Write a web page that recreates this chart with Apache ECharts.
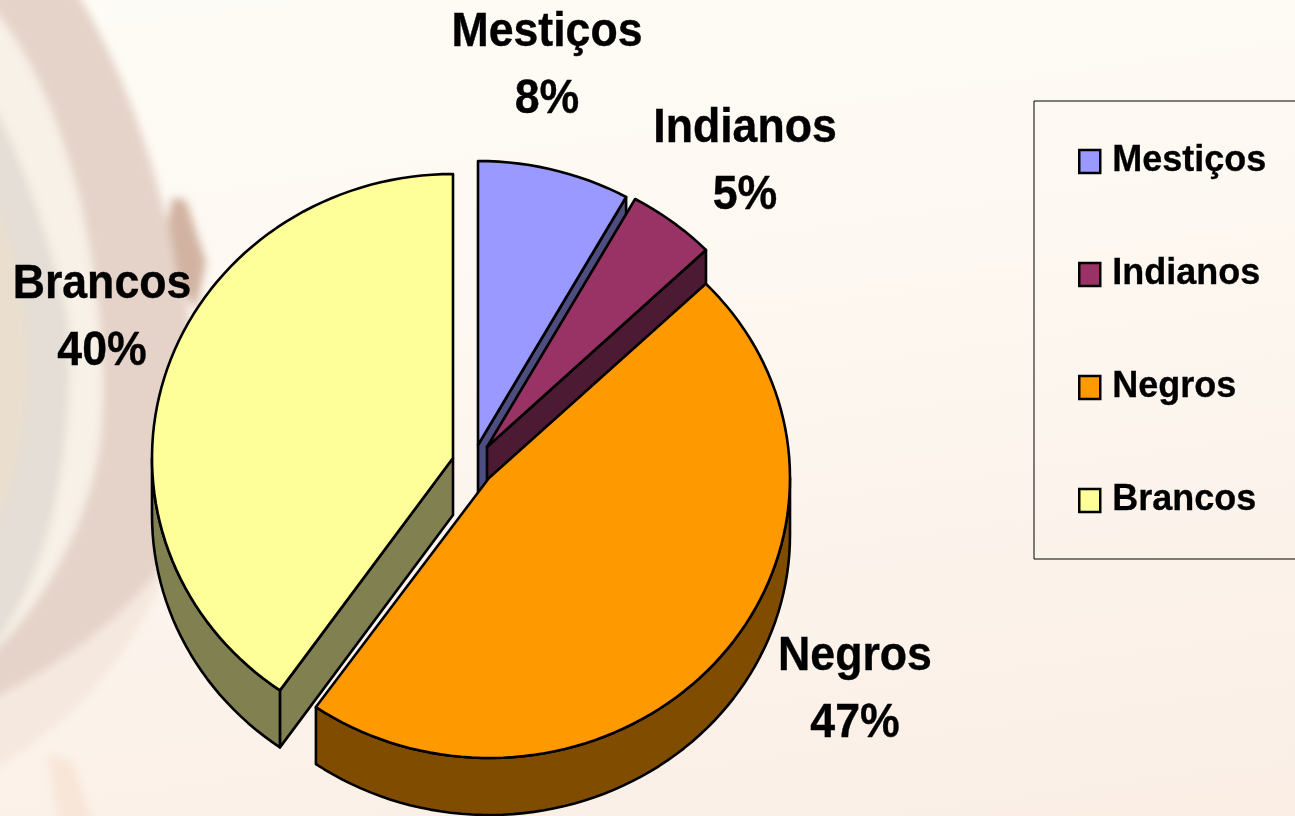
<!DOCTYPE html>
<html><head><meta charset="utf-8">
<style>
html,body{margin:0;padding:0;width:1295px;height:816px;overflow:hidden;background:linear-gradient(172deg,#fefcf6 0%,#fdf7f0 45%,#faeee5 100%);}
#bg{position:absolute;left:0;top:0;}
#c{position:absolute;left:0;top:0;width:1295px;height:816px;}
</style>
<script src="https://cdn.jsdelivr.net/npm/echarts@6/dist/echarts.min.js"></script>
</head><body>
<svg id="bg" width="1295" height="816" viewBox="0 0 1295 816">
<defs><filter id="b" x="-20%" y="-20%" width="140%" height="140%"><feGaussianBlur stdDeviation="4"/></filter></defs>
<g filter="url(#b)">
<path d="M47,755 L72,760 L95,830 L60,830 Z" fill="#f8e6d8"/>
<path d="M-10,690 C70,660 120,620 170,560 C130,670 60,730 -10,772 Z" fill="#f5e8de"/>
<path d="M75,-10 C120,60 150,150 168,225 C200,300 205,470 157,573 C110,630 50,670 -10,700 L-10,-10 Z" fill="#e5d3c9"/>
<path d="M168,222 L172,198 L186,200 L206,262 L196,310 L178,280 Z" fill="#d2b3a1"/>
<path d="M-10,5 C30,50 60,120 80,200 C100,290 108,380 100,442 C92,510 50,600 -10,655 Z" fill="#f8f1e7"/>
<path d="M-10,100 C20,150 50,240 67,312 C75,380 65,500 35,570 C20,610 5,630 -10,650 Z" fill="#e4ded6"/>
<path d="M-10,190 C15,240 28,300 28,370 C28,430 15,490 -10,540 Z" fill="#eadfcf"/>
</g>
</svg>
<div id="c"></div>
<script>
// ---- data ----
const categories = ['Mestiços', 'Indianos', 'Negros', 'Brancos'];
const shares     = [8.1, 4.7, 46.95, 40.25];
const topColors  = ['#9999FF', '#993366', '#FF9900', '#FFFF99'];
const sideColors = ['#4D4D80', '#4D1A33', '#804D00', '#808050'];

// ---- layout (exploded slice apexes, radii, label anchors) ----
const apexes   = [[478, 445], [487, 447], [489, 478], [453, 458]];
const radiiX   = [304, 304, 301, 301];
const radiiY   = [284, 284, 280, 284];
const labelPos = [[547, 66], [745, 162], [855, 690], [102, 318]];
const DEPTH = 57, STEP = Math.PI / 90;

const total = shares.reduce((a, b) => a + b, 0);
function range(i) {
  let s = 0;
  for (let k = 0; k < i; k++) s += shares[k];
  return [s / total * 2 * Math.PI, (s + shares[i]) / total * 2 * Math.PI];
}
function rim(i, t, dy) {
  const c = apexes[i];
  return [c[0] + radiiX[i] * Math.sin(t), c[1] - radiiY[i] * Math.cos(t) + (dy || 0)];
}
function arc(i, a, b, dy) {
  const pts = [];
  const n = Math.max(1, Math.ceil((b - a) / STEP));
  for (let j = 0; j <= n; j++) pts.push(rim(i, a + (b - a) * j / n, dy));
  return pts;
}
function poly(points, fill) {
  return { type: 'polygon', shape: { points }, silent: true,
    style: { fill, stroke: '#000', lineWidth: 2.6, lineJoin: 'round' } };
}
function radialWall(i, t, fill) {
  const c = apexes[i], r = rim(i, t);
  return poly([c, r, [r[0], r[1] + DEPTH], [c[0], c[1] + DEPTH]], fill);
}
function renderSlice(i) {
  const [a, b] = range(i), c = apexes[i], kids = [];
  // side faces that look towards the viewer
  if (Math.sin(b) > 0) kids.push(radialWall(i, b, sideColors[i]));
  if (Math.sin(a) < 0) kids.push(radialWall(i, a, sideColors[i]));
  const lo = Math.max(a, Math.PI / 2), hi = Math.min(b, Math.PI * 3 / 2);
  if (hi > lo) {
    kids.push(poly(arc(i, lo, hi, 0).concat(arc(i, lo, hi, DEPTH).reverse()), sideColors[i]));
  }
  kids.push(poly([c].concat(arc(i, a, b, 0)), topColors[i]));
  kids.push({
    type: 'text', x: labelPos[i][0], y: labelPos[i][1], scaleX: 0.93, silent: true,
    style: {
      x: 0, y: 0,
      text: categories[i] + '\n' + Math.round(shares[i] / total * 100) + '%',
      font: 'bold 48px "Liberation Sans", Arial, sans-serif',
      lineHeight: 67, fill: '#000', stroke: '#000', lineWidth: 0.4,
      align: 'center', verticalAlign: 'middle'
    }
  });
  return { type: 'group', children: kids };
}

const chart = echarts.init(document.getElementById('c'), null, { renderer: 'canvas' });
chart.setOption({
  animation: false,
  backgroundColor: 'transparent',
  legend: {
    left: 1034, top: 101, orient: 'vertical', selectedMode: false,
    padding: [38, 200, 36, 44],
    backgroundColor: 'transparent', borderColor: '#000', borderWidth: 1,
    itemWidth: 21, itemHeight: 23, itemGap: 68,
    textStyle: { fontFamily: '"Liberation Sans", Arial, sans-serif', fontWeight: 'bold',
      fontSize: 36, color: '#000', lineHeight: 40, padding: [5, 0, 0, 7],
      textBorderColor: '#000', textBorderWidth: 0.3 },
    data: categories.map((name, i) => ({
      name, icon: 'rect',
      itemStyle: { color: topColors[i], borderColor: '#000', borderWidth: 2.5 }
    }))
  },
  series: categories.map((name, i) => ({
    type: 'custom', name, coordinateSystem: 'none', silent: true,
    itemStyle: { color: topColors[i] },
    data: [shares[i]],
    renderItem: () => renderSlice(i)
  }))
});
</script>
</body></html>
